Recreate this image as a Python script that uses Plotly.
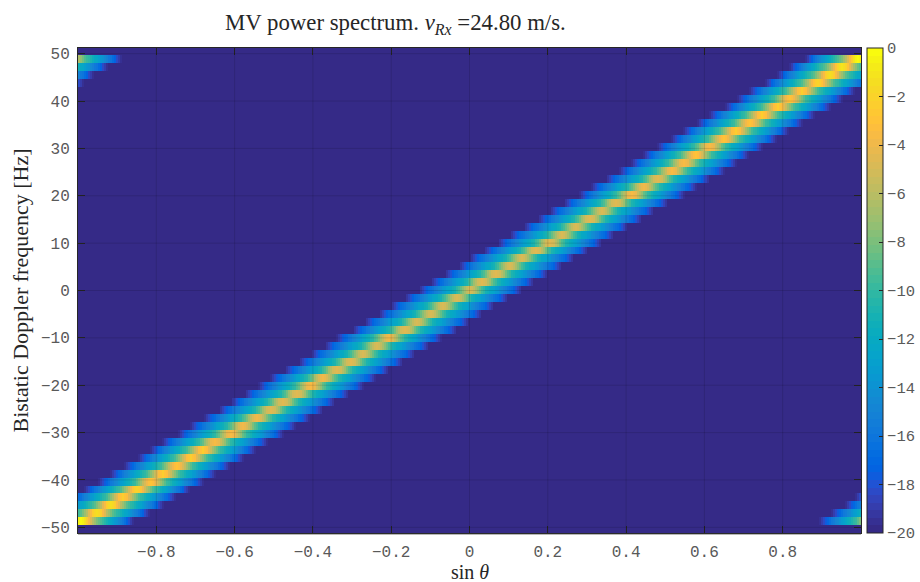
import numpy as np
import plotly.graph_objects as go

# Ridge per Doppler row (row index -29 ... 29)
ridge_px = [81, 96, 110, 123, 136, 150, 164, 176, 190, 203, 216, 230, 243, 256, 270, 283,
            296, 310, 323, 337, 350, 363, 377, 388, 405, 417, 430, 443, 457, 470, 483, 497,
            510, 523, 537, 550, 563, 577, 590, 603, 617, 632, 645, 658, 672, 685, 697, 710,
            723, 737, 750, 763, 777, 790, 803, 817, 830, 843, 857]
ridge_center = [round((p - 469.5) / 391.4, 3) for p in ridge_px]
ridge_peak = [-0.2, -1.5, -1.5, -2.5, -2, -3, -2.5, -3, -2.5, -2.5, -3.5, -3.5, -4, -4, -4.5, -4.5,
              -4.5, -3.5, -4, -4.5, -4.5, -5, -5, -4, -4.5, -5, -5, -5, -5, -5, -4.5, -4.5,
              -5, -5, -4.5, -4.5, -5, -5, -4.5, -5, -4.5, -3.5, -4, -4.5, -3.5, -3.5, -3, -3.5,
              -3, -2.5, -3, -2.5, -2.5, -3, -2.5, -2, -1.5, -1, -0.2]
# Fall-off of the ridge, share of the height above the floor, one entry per column away from the peak
ridge_falloff = [1.0, .98, .95, .89, .83, .76, .70, .65, .60, .57, .54, .51, .48, .45, .42, .39,
                 .36, .33, .30, .27, .24, .21, .18, .14, .10, .06, .02]
# Aliased ridges at the panel corners: row, centre in sin(theta), peak
alias_rows = [26, 27, 28, 29, -29, -28, -27, -26]
alias_center = [-1.118, -1.092, -1.058, -1.023, 1.03, 1.06, 1.095, 1.12]
alias_peak = [-2, -2, -2, -2, -3, -3, -3, -3]

x_ticks = [-0.8, -0.6, -0.4, -0.2, 0, 0.2, 0.4, 0.6, 0.8]
x_labels = ["\u22120.8", "\u22120.6", "\u22120.4", "\u22120.2", "0", "0.2", "0.4", "0.6", "0.8"]
y_ticks = [-50, -40, -30, -20, -10, 0, 10, 20, 30, 40, 50]
y_labels = ["\u221250", "\u221240", "\u221230", "\u221220", "\u221210", "0", "10", "20", "30", "40", "50"]
c_ticks = [0, -2, -4, -6, -8, -10, -12, -14, -16, -18, -20]
c_labels = ["0", "\u22122", "\u22124", "\u22126", "\u22128", "\u221210", "\u221212", "\u221214", "\u221216", "\u221218", "\u221220"]

parula = [
 (.2081,.1663,.5292),(.2116,.1898,.5777),(.2123,.2138,.6270),(.2081,.2386,.6771),(.1959,.2645,.7279),
 (.1707,.2919,.7792),(.1253,.3242,.8303),(.0591,.3598,.8683),(.0117,.3875,.8820),(.0060,.4086,.8828),
 (.0165,.4266,.8786),(.0329,.4430,.8720),(.0498,.4586,.8641),(.0629,.4737,.8554),(.0723,.4887,.8467),
 (.0779,.5040,.8384),(.0793,.5200,.8312),(.0749,.5375,.8263),(.0641,.5570,.8240),(.0488,.5772,.8228),
 (.0343,.5966,.8199),(.0265,.6137,.8135),(.0239,.6287,.8038),(.0231,.6418,.7913),(.0228,.6535,.7768),
 (.0267,.6642,.7607),(.0384,.6743,.7436),(.0590,.6838,.7254),(.0843,.6928,.7062),(.1133,.7015,.6859),
 (.1453,.7098,.6646),(.1801,.7177,.6424),(.2178,.7250,.6193),(.2586,.7317,.5954),(.3022,.7376,.5712),
 (.3482,.7424,.5473),(.3953,.7459,.5244),(.4420,.7481,.5033),(.4871,.7491,.4840),(.5300,.7491,.4661),
 (.5709,.7485,.4494),(.6099,.7473,.4337),(.6473,.7456,.4188),(.6834,.7435,.4044),(.7184,.7411,.3905),
 (.7525,.7384,.3768),(.7858,.7356,.3633),(.8185,.7327,.3498),(.8507,.7299,.3360),(.8824,.7274,.3217),
 (.9139,.7258,.3063),(.9450,.7261,.2886),(.9739,.7314,.2666),(.9938,.7455,.2403),(.9990,.7653,.2164),
 (.9955,.7861,.1967),(.9880,.8066,.1794),(.9789,.8271,.1633),(.9697,.8481,.1475),(.9626,.8705,.1309),
 (.9589,.8949,.1132),(.9598,.9218,.0948),(.9661,.9514,.0755),(.9763,.9831,.0538)]
scale = []
for i, c in enumerate(parula):
    col = "rgb(%d,%d,%d)" % tuple(round(v * 255) for v in c)
    scale += [[i / 64, col], [(i + 1) / 64, col]]

FLOOR = -20.0
n_cols = 392
dx = 2 / n_cols
dy = 1.6833
rows = np.arange(-30, 31)
x = -1 + (np.arange(n_cols) + 0.5) * dx
y = rows * dy
z = np.full((len(rows), n_cols), FLOOR)


def stamp(row, center, peak):
    c0 = int(round((center + 1) / dx - 0.5))
    for n, g in enumerate(ridge_falloff):
        for col in {c0 - n, c0 + n}:
            if 0 <= col < n_cols:
                v = FLOOR + (peak - FLOOR) * g
                z[row + 30, col] = max(z[row + 30, col], v)


for row, c, p in zip(range(-29, 30), ridge_center, ridge_peak):
    stamp(row, c, p)
for row, c, p in zip(alias_rows, alias_center, alias_peak):
    stamp(row, c, p)

W, H = 920, 582
L, R, T, B = 78, 861, 47.5, 533
fig = go.Figure(go.Heatmap(
    x=x, y=y, z=z, zmin=-20, zmax=0, colorscale=scale, hoverinfo="skip",
    colorbar=dict(
        xref="paper", x=(867 - L) / (R - L), xanchor="left", xpad=0, ypad=0, thickness=16,
        thicknessmode="pixels", len=1, lenmode="fraction", y=0.5, yanchor="middle",
        outlinecolor="#262626", outlinewidth=1, ticks="inside", ticklen=4, tickcolor="#262626",
        tickvals=c_ticks, ticktext=c_labels,
        tickfont=dict(family="Liberation Mono", size=15.5, color="#595959"),
    ),
))

shapes = []
for t in x_ticks:
    shapes.append(dict(type="line", xref="x", yref="paper", x0=t, x1=t, y0=0, y1=1,
                       line=dict(color="rgba(0,0,0,0.12)", width=1), layer="above"))
for t in y_ticks:
    shapes.append(dict(type="line", xref="paper", yref="y", x0=0, x1=1, y0=t, y1=t,
                       line=dict(color="rgba(0,0,0,0.12)", width=1), layer="above"))
shapes.append(dict(type="line", xref="paper", yref="paper", x0=0, x1=1, y0=-0.003, y1=-0.003,
                   line=dict(color="#b4b4b4", width=1), layer="above"))

axis_common = dict(showgrid=False, zeroline=False, ticks="inside", ticklen=7, tickcolor="#262626",
                   tickwidth=1, showline=True, linecolor="#262626", linewidth=1, mirror="ticks",
                   automargin=False,
                   tickfont=dict(family="Liberation Mono", size=16, color="#595959"))
label_font = dict(family="Liberation Serif", size=22, color="#262626")
fig.update_layout(
    width=W, height=H, autosize=False, paper_bgcolor="white", plot_bgcolor="white",
    margin=dict(l=L, r=W - R, t=T, b=H - B, pad=0, autoexpand=False),
    font=dict(family="Liberation Serif", color="#262626"),
    title=dict(text="MV power spectrum. <i>v</i><sub><i>Rx</i></sub> =24.80 m/s.",
               x=225 / W, xanchor="left", xref="container", y=1 - 22.5 / H, yanchor="middle",
               font=dict(family="Liberation Serif", size=22.8, color="#262626")),
    xaxis=dict(range=[-1, 1], tickvals=x_ticks, ticktext=x_labels, ticklabelstandoff=4, **axis_common),
    yaxis=dict(range=[-51.2, 51.2], tickvals=y_ticks, ticktext=y_labels, ticklabelstandoff=4,
               title=dict(text="Bistatic Doppler frequency [Hz]", standoff=6, font=label_font),
               **axis_common),
    annotations=[dict(text="sin <i>\u03b8</i>", xref="paper", yref="paper", x=0.5, y=-(572.5 - B) / (B - T),
                      xanchor="center", yanchor="middle", showarrow=False,
                      font=dict(family="Liberation Serif", size=20, color="#262626"))],
    shapes=shapes,
)
fig.write_html("out.html", config={"displayModeBar": False},
               post_script="document.body.style.margin='0';document.documentElement.style.overflow='hidden';")
